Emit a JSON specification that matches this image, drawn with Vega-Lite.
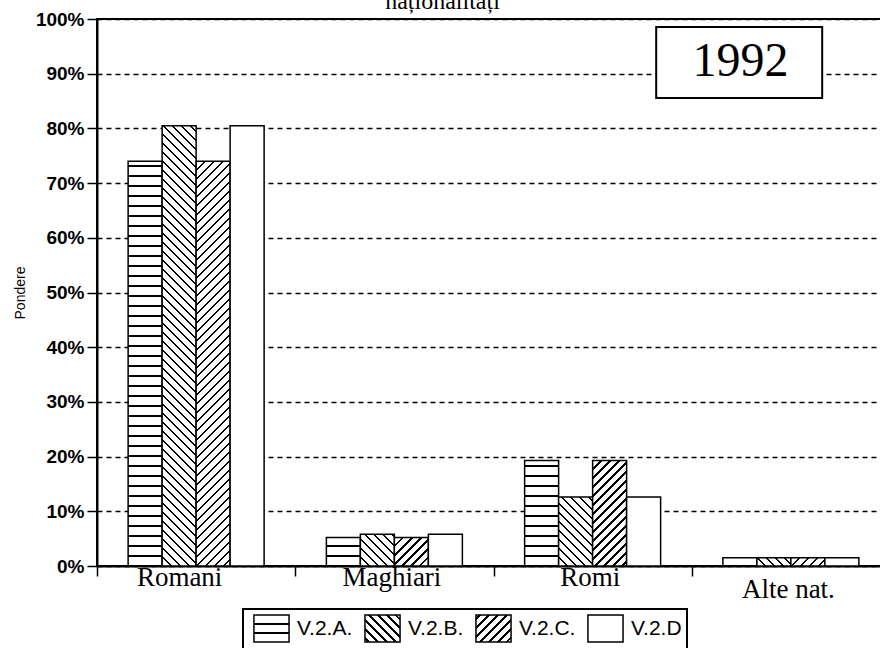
{
"$schema": "https://vega.github.io/schema/vega-lite/v6.json",
"width": 793, "height": 547,
"autosize": {"type": "none"},
"padding": {"left": 97, "top": 19, "right": 0, "bottom": 82},
"background": "white",
"title": {"text": "naționalități", "font": "Liberation Serif", "fontSize": 24, "fontWeight": "normal", "color": "black", "anchor": "middle", "dx": -51, "dy": 23, "offset": 0, "baseline": "alphabetic"},
"params": [
{"name": "lgA", "value": {"gradient":"linear","x1":0,"y1":0,"x2":0,"y2":1,"stops":[{"offset":0,"color":"#fff"},{"offset":0.30,"color":"#fff"},{"offset":0.30,"color":"#000"},{"offset":0.37,"color":"#000"},{"offset":0.37,"color":"#fff"},{"offset":0.63,"color":"#fff"},{"offset":0.63,"color":"#000"},{"offset":0.70,"color":"#000"},{"offset":0.70,"color":"#fff"},{"offset":1,"color":"#fff"}]}},
{"name": "lgB", "value": {"gradient":"linear","x1":0,"y1":1,"x2":1.11,"y2":0.143,"stops":[{"offset":0.049,"color":"#fff"},{"offset":0.049,"color":"#000"},{"offset":0.093,"color":"#000"},{"offset":0.093,"color":"#fff"},{"offset":0.192,"color":"#fff"},{"offset":0.192,"color":"#000"},{"offset":0.236,"color":"#000"},{"offset":0.236,"color":"#fff"},{"offset":0.335,"color":"#fff"},{"offset":0.335,"color":"#000"},{"offset":0.379,"color":"#000"},{"offset":0.379,"color":"#fff"},{"offset":0.478,"color":"#fff"},{"offset":0.478,"color":"#000"},{"offset":0.522,"color":"#000"},{"offset":0.522,"color":"#fff"},{"offset":0.621,"color":"#fff"},{"offset":0.621,"color":"#000"},{"offset":0.665,"color":"#000"},{"offset":0.665,"color":"#fff"},{"offset":0.764,"color":"#fff"},{"offset":0.764,"color":"#000"},{"offset":0.808,"color":"#000"},{"offset":0.808,"color":"#fff"},{"offset":0.907,"color":"#fff"},{"offset":0.907,"color":"#000"},{"offset":0.951,"color":"#000"},{"offset":0.951,"color":"#fff"}]}},
{"name": "lgC", "value": {"gradient":"linear","x1":0,"y1":0,"x2":1.11,"y2":0.857,"stops":[{"offset":0.049,"color":"#fff"},{"offset":0.049,"color":"#000"},{"offset":0.093,"color":"#000"},{"offset":0.093,"color":"#fff"},{"offset":0.192,"color":"#fff"},{"offset":0.192,"color":"#000"},{"offset":0.236,"color":"#000"},{"offset":0.236,"color":"#fff"},{"offset":0.335,"color":"#fff"},{"offset":0.335,"color":"#000"},{"offset":0.379,"color":"#000"},{"offset":0.379,"color":"#fff"},{"offset":0.478,"color":"#fff"},{"offset":0.478,"color":"#000"},{"offset":0.522,"color":"#000"},{"offset":0.522,"color":"#fff"},{"offset":0.621,"color":"#fff"},{"offset":0.621,"color":"#000"},{"offset":0.665,"color":"#000"},{"offset":0.665,"color":"#fff"},{"offset":0.764,"color":"#fff"},{"offset":0.764,"color":"#000"},{"offset":0.808,"color":"#000"},{"offset":0.808,"color":"#fff"},{"offset":0.907,"color":"#fff"},{"offset":0.907,"color":"#000"},{"offset":0.951,"color":"#000"},{"offset":0.951,"color":"#fff"}]}},
{"name": "hs", "value": [
{"offset":0,"color":"#000"},{"offset":0.0022,"color":"#000"},{"offset":0.0022,"color":"#fff"},
{"offset":0.0163,"color":"#fff"},{"offset":0.0163,"color":"#000"},{"offset":0.0207,"color":"#000"},{"offset":0.0207,"color":"#fff"},
{"offset":0.0348,"color":"#fff"},{"offset":0.0348,"color":"#000"},{"offset":0.0393,"color":"#000"},{"offset":0.0393,"color":"#fff"},
{"offset":0.0533,"color":"#fff"},{"offset":0.0533,"color":"#000"},{"offset":0.0578,"color":"#000"},{"offset":0.0578,"color":"#fff"},
{"offset":0.0719,"color":"#fff"},{"offset":0.0719,"color":"#000"},{"offset":0.0763,"color":"#000"},{"offset":0.0763,"color":"#fff"},
{"offset":0.0904,"color":"#fff"},{"offset":0.0904,"color":"#000"},{"offset":0.0948,"color":"#000"},{"offset":0.0948,"color":"#fff"},
{"offset":0.1089,"color":"#fff"},{"offset":0.1089,"color":"#000"},{"offset":0.1133,"color":"#000"},{"offset":0.1133,"color":"#fff"},
{"offset":0.1274,"color":"#fff"},{"offset":0.1274,"color":"#000"},{"offset":0.1319,"color":"#000"},{"offset":0.1319,"color":"#fff"},
{"offset":0.1459,"color":"#fff"},{"offset":0.1459,"color":"#000"},{"offset":0.1504,"color":"#000"},{"offset":0.1504,"color":"#fff"},
{"offset":0.1644,"color":"#fff"},{"offset":0.1644,"color":"#000"},{"offset":0.1689,"color":"#000"},{"offset":0.1689,"color":"#fff"},
{"offset":0.1830,"color":"#fff"},{"offset":0.1830,"color":"#000"},{"offset":0.1874,"color":"#000"},{"offset":0.1874,"color":"#fff"},
{"offset":0.2015,"color":"#fff"},{"offset":0.2015,"color":"#000"},{"offset":0.2059,"color":"#000"},{"offset":0.2059,"color":"#fff"},
{"offset":0.2200,"color":"#fff"},{"offset":0.2200,"color":"#000"},{"offset":0.2244,"color":"#000"},{"offset":0.2244,"color":"#fff"},
{"offset":0.2385,"color":"#fff"},{"offset":0.2385,"color":"#000"},{"offset":0.2430,"color":"#000"},{"offset":0.2430,"color":"#fff"},
{"offset":0.2570,"color":"#fff"},{"offset":0.2570,"color":"#000"},{"offset":0.2615,"color":"#000"},{"offset":0.2615,"color":"#fff"},
{"offset":0.2756,"color":"#fff"},{"offset":0.2756,"color":"#000"},{"offset":0.2800,"color":"#000"},{"offset":0.2800,"color":"#fff"},
{"offset":0.2941,"color":"#fff"},{"offset":0.2941,"color":"#000"},{"offset":0.2985,"color":"#000"},{"offset":0.2985,"color":"#fff"},
{"offset":0.3126,"color":"#fff"},{"offset":0.3126,"color":"#000"},{"offset":0.3170,"color":"#000"},{"offset":0.3170,"color":"#fff"},
{"offset":0.3311,"color":"#fff"},{"offset":0.3311,"color":"#000"},{"offset":0.3356,"color":"#000"},{"offset":0.3356,"color":"#fff"},
{"offset":0.3496,"color":"#fff"},{"offset":0.3496,"color":"#000"},{"offset":0.3541,"color":"#000"},{"offset":0.3541,"color":"#fff"},
{"offset":0.3681,"color":"#fff"},{"offset":0.3681,"color":"#000"},{"offset":0.3726,"color":"#000"},{"offset":0.3726,"color":"#fff"},
{"offset":0.3867,"color":"#fff"},{"offset":0.3867,"color":"#000"},{"offset":0.3911,"color":"#000"},{"offset":0.3911,"color":"#fff"},
{"offset":0.4052,"color":"#fff"},{"offset":0.4052,"color":"#000"},{"offset":0.4096,"color":"#000"},{"offset":0.4096,"color":"#fff"},
{"offset":0.4237,"color":"#fff"},{"offset":0.4237,"color":"#000"},{"offset":0.4281,"color":"#000"},{"offset":0.4281,"color":"#fff"},
{"offset":0.4422,"color":"#fff"},{"offset":0.4422,"color":"#000"},{"offset":0.4467,"color":"#000"},{"offset":0.4467,"color":"#fff"},
{"offset":0.4607,"color":"#fff"},{"offset":0.4607,"color":"#000"},{"offset":0.4652,"color":"#000"},{"offset":0.4652,"color":"#fff"},
{"offset":0.4793,"color":"#fff"},{"offset":0.4793,"color":"#000"},{"offset":0.4837,"color":"#000"},{"offset":0.4837,"color":"#fff"},
{"offset":0.4978,"color":"#fff"},{"offset":0.4978,"color":"#000"},{"offset":0.5022,"color":"#000"},{"offset":0.5022,"color":"#fff"},
{"offset":0.5163,"color":"#fff"},{"offset":0.5163,"color":"#000"},{"offset":0.5207,"color":"#000"},{"offset":0.5207,"color":"#fff"},
{"offset":0.5348,"color":"#fff"},{"offset":0.5348,"color":"#000"},{"offset":0.5393,"color":"#000"},{"offset":0.5393,"color":"#fff"},
{"offset":0.5533,"color":"#fff"},{"offset":0.5533,"color":"#000"},{"offset":0.5578,"color":"#000"},{"offset":0.5578,"color":"#fff"},
{"offset":0.5719,"color":"#fff"},{"offset":0.5719,"color":"#000"},{"offset":0.5763,"color":"#000"},{"offset":0.5763,"color":"#fff"},
{"offset":0.5904,"color":"#fff"},{"offset":0.5904,"color":"#000"},{"offset":0.5948,"color":"#000"},{"offset":0.5948,"color":"#fff"},
{"offset":0.6089,"color":"#fff"},{"offset":0.6089,"color":"#000"},{"offset":0.6133,"color":"#000"},{"offset":0.6133,"color":"#fff"},
{"offset":0.6274,"color":"#fff"},{"offset":0.6274,"color":"#000"},{"offset":0.6319,"color":"#000"},{"offset":0.6319,"color":"#fff"},
{"offset":0.6459,"color":"#fff"},{"offset":0.6459,"color":"#000"},{"offset":0.6504,"color":"#000"},{"offset":0.6504,"color":"#fff"},
{"offset":0.6644,"color":"#fff"},{"offset":0.6644,"color":"#000"},{"offset":0.6689,"color":"#000"},{"offset":0.6689,"color":"#fff"},
{"offset":0.6830,"color":"#fff"},{"offset":0.6830,"color":"#000"},{"offset":0.6874,"color":"#000"},{"offset":0.6874,"color":"#fff"},
{"offset":0.7015,"color":"#fff"},{"offset":0.7015,"color":"#000"},{"offset":0.7059,"color":"#000"},{"offset":0.7059,"color":"#fff"},
{"offset":0.7200,"color":"#fff"},{"offset":0.7200,"color":"#000"},{"offset":0.7244,"color":"#000"},{"offset":0.7244,"color":"#fff"},
{"offset":0.7385,"color":"#fff"},{"offset":0.7385,"color":"#000"},{"offset":0.7430,"color":"#000"},{"offset":0.7430,"color":"#fff"},
{"offset":0.7570,"color":"#fff"},{"offset":0.7570,"color":"#000"},{"offset":0.7615,"color":"#000"},{"offset":0.7615,"color":"#fff"},
{"offset":0.7756,"color":"#fff"},{"offset":0.7756,"color":"#000"},{"offset":0.7800,"color":"#000"},{"offset":0.7800,"color":"#fff"},
{"offset":0.7941,"color":"#fff"},{"offset":0.7941,"color":"#000"},{"offset":0.7985,"color":"#000"},{"offset":0.7985,"color":"#fff"},
{"offset":0.8126,"color":"#fff"},{"offset":0.8126,"color":"#000"},{"offset":0.8170,"color":"#000"},{"offset":0.8170,"color":"#fff"},
{"offset":0.8311,"color":"#fff"},{"offset":0.8311,"color":"#000"},{"offset":0.8356,"color":"#000"},{"offset":0.8356,"color":"#fff"},
{"offset":0.8496,"color":"#fff"},{"offset":0.8496,"color":"#000"},{"offset":0.8541,"color":"#000"},{"offset":0.8541,"color":"#fff"},
{"offset":0.8681,"color":"#fff"},{"offset":0.8681,"color":"#000"},{"offset":0.8726,"color":"#000"},{"offset":0.8726,"color":"#fff"},
{"offset":0.8867,"color":"#fff"},{"offset":0.8867,"color":"#000"},{"offset":0.8911,"color":"#000"},{"offset":0.8911,"color":"#fff"},
{"offset":0.9052,"color":"#fff"},{"offset":0.9052,"color":"#000"},{"offset":0.9096,"color":"#000"},{"offset":0.9096,"color":"#fff"},
{"offset":0.9237,"color":"#fff"},{"offset":0.9237,"color":"#000"},{"offset":0.9281,"color":"#000"},{"offset":0.9281,"color":"#fff"},
{"offset":0.9422,"color":"#fff"},{"offset":0.9422,"color":"#000"},{"offset":0.9467,"color":"#000"},{"offset":0.9467,"color":"#fff"},
{"offset":0.9607,"color":"#fff"},{"offset":0.9607,"color":"#000"},{"offset":0.9652,"color":"#000"},{"offset":0.9652,"color":"#fff"},
{"offset":0.9793,"color":"#fff"},{"offset":0.9793,"color":"#000"},{"offset":0.9837,"color":"#000"},{"offset":0.9837,"color":"#fff"},
{"offset":1,"color":"#fff"}
]}],
"data": {"values": [
{"nat":"Romani","series":"V.2.A.","value":74.0},
{"nat":"Romani","series":"V.2.B.","value":80.5},
{"nat":"Romani","series":"V.2.C.","value":74.0},
{"nat":"Romani","series":"V.2.D","value":80.5},
{"nat":"Maghiari","series":"V.2.A.","value":5.2},
{"nat":"Maghiari","series":"V.2.B.","value":5.8},
{"nat":"Maghiari","series":"V.2.C.","value":5.2},
{"nat":"Maghiari","series":"V.2.D","value":5.8},
{"nat":"Romi","series":"V.2.A.","value":19.3},
{"nat":"Romi","series":"V.2.B.","value":12.6},
{"nat":"Romi","series":"V.2.C.","value":19.3},
{"nat":"Romi","series":"V.2.D","value":12.6},
{"nat":"Alte nat.","series":"V.2.A.","value":1.5},
{"nat":"Alte nat.","series":"V.2.B.","value":1.5},
{"nat":"Alte nat.","series":"V.2.C.","value":1.5},
{"nat":"Alte nat.","series":"V.2.D","value":1.5}
]},
"layer": [
{
"mark": {"type": "bar", "stroke": "black", "strokeWidth": 1.5},
"encoding": {
"x": {"field": "nat", "type": "nominal",
 "scale": {"domain": ["Romani","Maghiari","Romi","Alte nat."], "paddingInner": 0.314, "paddingOuter": 0.157},
 "axis": {"title": null, "labelAngle": 0, "labelFont": "Liberation Serif", "labelFontSize": 27, "labelColor": "black", "labelBaseline": "top",
  "labelOffset": {"condition": {"test": "datum.value === 'Romani'", "value": 82}, "value": 96},
  "labelPadding": {"condition": {"test": "datum.value === 'Alte nat.'", "value": 0}, "value": -12},
  "domainColor": "black", "domainWidth": 2, "tickColor": "black", "tickWidth": 1.5, "tickSize": 10, "tickOffset": -99}},
"xOffset": {"field": "series", "type": "nominal", "scale": {"domain": ["V.2.A.","V.2.B.","V.2.C.","V.2.D"]}},
"y": {"field": "value", "type": "quantitative", "scale": {"domain": [0, 100], "nice": false},
 "axis": {"title": "Pondere", "values": [0,10,20,30,40,50,60,70,80,90,100], "labelExpr": "datum.value + '%'",
  "labelFont": "Liberation Sans", "labelFontWeight": "bold", "labelFontSize": 19, "labelColor": "black", "labelPadding": 3,
  "tickSize": 10, "tickColor": "black", "tickWidth": 1.5, "domainColor": "black", "domainWidth": 2,
  "grid": true, "gridColor": "black", "gridDash": [5, 4], "gridWidth": 1.5, "gridOpacity": 1,
  "titleFont": "Liberation Sans", "titleFontSize": 14, "titleFontWeight": "normal", "titleColor": "black", "titlePadding": 8}},
"fill": {"value": {"expr": "datum.series === 'V.2.D' ? 'white' : {gradient: 'linear', x1: 0, y1: (datum.series === 'V.2.C.' ? 0 : 1), x2: (datum.series === 'V.2.A.' ? 0 : 34*486/(1156+pow(datum.value*5.47,2))), y2: (datum.series === 'V.2.A.' ? 1-540/(datum.value*5.47) : (datum.series === 'V.2.B.' ? 1-datum.value*5.47*486/(1156+pow(datum.value*5.47,2)) : datum.value*5.47*486/(1156+pow(datum.value*5.47,2)))), stops: hs}"}}
}
},
{
"mark": {"type": "bar"},
"encoding": {
"x": {"field": "nat", "type": "nominal"},
"xOffset": {"field": "series", "type": "nominal"},
"y": {"datum": 0},
"y2": {"datum": 0},
"fill": {"field": "series", "type": "nominal",
 "scale": {"domain": ["V.2.A.","V.2.B.","V.2.C.","V.2.D"], "range": [{"expr": "lgA"}, {"expr": "lgB"}, {"expr": "lgC"}, "white"]},
 "legend": {"title": null, "orient": "none", "legendX": 146, "legendY": 590, "direction": "horizontal", "columns": 4,
  "symbolType": "M-1.3,-1H1.3V1H-1.3Z", "symbolSize": 729, "symbolStrokeColor": "black", "symbolStrokeWidth": 1.5, "symbolOpacity": 1,
  "symbolOffset": 9, "labelOffset": 11, "columnPadding": 6, "labelFont": "Liberation Sans", "labelFontSize": 21, "labelColor": "black",
  "padding": 5, "strokeColor": "black", "fillColor": "white"}}
}
},
{
"data": {"values": [{"label": "1992"}]},
"layer": [
{"mark": {"type": "point", "shape": "M-1,-0.428H1V0.428H-1Z", "size": 27556, "filled": true, "fill": "white", "stroke": "black", "strokeWidth": 2, "opacity": 1},
 "encoding": {"x": {"datum": "Alte nat.", "bandPosition": 0.12}, "y": {"datum": 92.05}}},
{"mark": {"type": "text", "font": "Liberation Serif", "fontSize": 48, "baseline": "middle", "align": "center", "color": "black"},
 "encoding": {"x": {"datum": "Alte nat.", "bandPosition": 0.13}, "y": {"datum": 92.05}, "text": {"field": "label"}}}
]
}
],
"config": {"view": {"stroke": "black", "strokeWidth": 2}, "legend": {"strokeWidth": 2}, "font": "Liberation Sans"}
}
